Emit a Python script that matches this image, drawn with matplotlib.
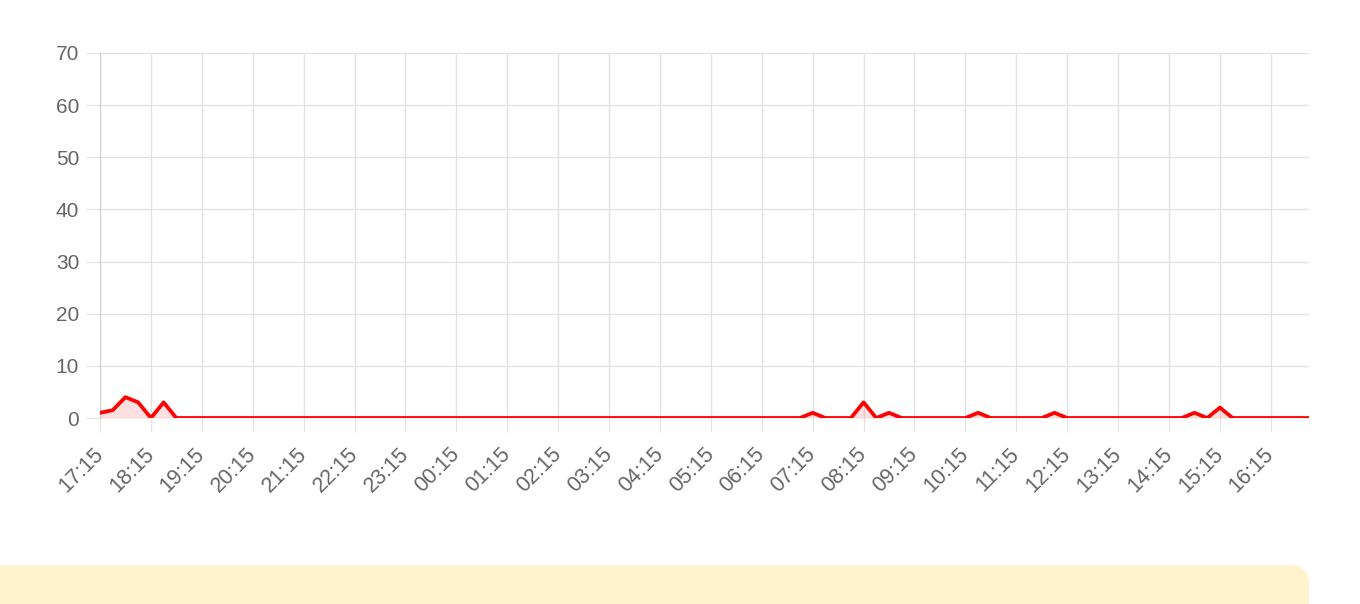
import numpy as np
import pandas as pd
import matplotlib
matplotlib.use("Agg")
import matplotlib.pyplot as plt
from matplotlib.patches import FancyBboxPatch

plt.rcParams["font.family"] = ["Liberation Sans", "DejaVu Sans"]

# ── data: one value every 15 minutes, 17:15 → 17:00 next day ────────────────
start_time = "17:15"
n_points = 96
values = [
    1, 1.5, 4, 3, 0, 3, 0, 0, 0, 0, 0, 0,      # 17:15 - 20:00
    0, 0, 0, 0, 0, 0, 0, 0, 0, 0, 0, 0,        # 20:15 - 23:00
    0, 0, 0, 0, 0, 0, 0, 0, 0, 0, 0, 0,        # 23:15 - 02:00
    0, 0, 0, 0, 0, 0, 0, 0, 0, 0, 0, 0,        # 02:15 - 05:00
    0, 0, 0, 0, 0, 0, 0, 0, 1, 0, 0, 0,        # 05:15 - 08:00
    3, 0, 1, 0, 0, 0, 0, 0, 0, 1, 0, 0,        # 08:15 - 11:00
    0, 0, 0, 1, 0, 0, 0, 0, 0, 0, 0, 0,        # 11:15 - 14:00
    0, 0, 1, 0, 2, 0, 0, 0, 0, 0, 0, 0,        # 14:15 - 17:00
]
y_ticks = [0, 10, 20, 30, 40, 50, 60, 70]

labels = pd.date_range("2024-01-01 " + start_time, periods=n_points, freq="15min").strftime("%H:%M")
x = np.arange(n_points)

W, H = 1360, 604
fig = plt.figure(figsize=(W / 100, H / 100), dpi=100)
ax = fig.add_axes([100 / W, (H - 418) / H, (1309 - 100) / W, (418 - 53) / H])

grid_c = "#e3e3e3"
ax.fill_between(x, values, 0, color="#ff0000", alpha=0.12, lw=0, zorder=2)
ax.plot(x, values, color="#ff0000", lw=2.7, zorder=3)

ax.set_xlim(0, n_points - 1)
ax.set_ylim(0, 70)
ax.set_yticks(y_ticks)
ax.set_xticks(x[::4])
ax.set_xticklabels(labels[::4], rotation=45, ha="right", va="center", rotation_mode="anchor")

ax.grid(True, color=grid_c, lw=1, zorder=0)
ax.set_axisbelow(True)
for side in ["top", "right", "bottom"]:
    ax.spines[side].set_visible(False)
ax.spines["left"].set_color("#cfcfcf")
ax.tick_params(axis="both", length=10, color=grid_c, labelcolor="#666666", labelsize=15)
ax.tick_params(axis="y", pad=5)
ax.tick_params(axis="x", pad=14, labelsize=15.5)

# yellow notice box below the chart
box = FancyBboxPatch(((-20) / W, (H - 604 - 20) / H), (1309 + 20) / W, (604 - 565 + 20) / H,
                     boxstyle="round,pad=0,rounding_size=0.014", transform=fig.transFigure,
                     facecolor="#fff3cd", edgecolor="none", mutation_aspect=W / H)
fig.patches.append(box)

fig.savefig("out.png", dpi=100)
